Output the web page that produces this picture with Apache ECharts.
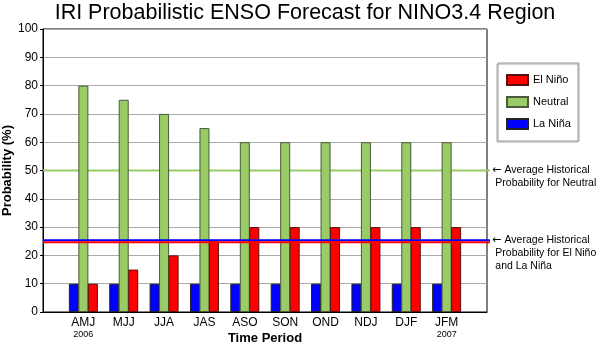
<!DOCTYPE html>
<html>
<head>
<meta charset="utf-8">
<script src="https://cdn.jsdelivr.net/npm/echarts@6/dist/echarts.min.js"></script>
<style>
  html, body { margin: 0; padding: 0; background: #fff; }
  #chart { width: 597px; height: 344px; }
</style>
</head>
<body>
<div id="chart"></div>
<script>
// Forecast periods (three-month seasons) and the year shown under the first/last one
const periods = ['AMJ', 'MJJ', 'JJA', 'JAS', 'ASO', 'SON', 'OND', 'NDJ', 'DJF', 'JFM'];
const periodYears = { 0: '2006', 9: '2007' };

// Probabilities (%) for each category
const elNino  = [10, 15, 20, 25, 30, 30, 30, 30, 30, 30];
const neutral = [80, 75, 70, 65, 60, 60, 60, 60, 60, 60];
const laNina  = [10, 10, 10, 10, 10, 10, 10, 10, 10, 10];

// Average historical (climatological) probabilities
const climNeutral = 50;
const climElNino = 25;
const climLaNina = 25;

const yTicks = [0, 10, 20, 30, 40, 50, 60, 70, 80, 90, 100];

const FONT = '"Liberation Sans", Arial, Helvetica, sans-serif';
const RED = '#ff0000', GREEN = '#99cc66', BLUE = '#0000ff';

const pairs = arr => arr.map((v, i) => [i, v]);

// Horizontal climatology line spanning the plot, with a small pixel shift
function refLine(color, pxShift) {
  return function (params, api) {
    const y = api.value(1);
    const a = api.coord([-1, y]);
    const b = api.coord([10, y]);
    return {
      type: 'line',
      shape: { x1: a[0], y1: a[1] + pxShift, x2: b[0] + 3, y2: b[1] + pxShift },
      style: { stroke: color, lineWidth: 2 }
    };
  };
}

const noteRich = {
  a: { fontFamily: '"DejaVu Sans", sans-serif', fontSize: 11, lineHeight: 13 },
  t: { fontFamily: FONT, fontSize: 10.5, lineHeight: 13 }
};

const chart = echarts.init(document.getElementById('chart'), null, { renderer: 'canvas' });

chart.setOption({
  animation: false,
  backgroundColor: '#fff',
  textStyle: { fontFamily: FONT, color: '#000' },
  title: {
    text: 'IRI Probabilistic ENSO Forecast for NINO3.4 Region',
    left: 300,
    top: -3,
    textAlign: 'center',
    textStyle: { fontFamily: FONT, fontSize: 21.5, fontWeight: 'normal', color: '#000' }
  },
  legend: {
    orient: 'vertical',
    left: 498,
    top: 63,
    padding: [11, 8, 11, 8],
    itemGap: 10,
    itemWidth: 21,
    itemHeight: 10,
    icon: 'rect',
    borderColor: '#999',
    borderWidth: 1,
    shadowColor: '#aaa',
    shadowBlur: 0,
    shadowOffsetX: -1,
    shadowOffsetY: 1,
    data: ['El Niño', 'Neutral', 'La Niña'],
    textStyle: { fontFamily: FONT, fontSize: 11, color: '#000' }
  },
  grid: {
    left: 43, right: 110, top: 29, bottom: 32,
    outerBoundsMode: 'none',
    containLabel: false,
    show: true, borderColor: '#000', borderWidth: 1, backgroundColor: 'transparent'
  },
  xAxis: {
    type: 'value',
    min: -1, max: 10, interval: 1,
    name: 'Time Period',
    nameLocation: 'middle',
    nameGap: 20,
    nameMoveOverlap: false,
    nameTextStyle: { fontFamily: FONT, fontSize: 13, fontWeight: 'bold', color: '#000' },
    axisLine: { show: true, onZero: false, lineStyle: { color: '#000', width: 1 } },
    axisTick: { show: false },
    splitLine: { show: false },
    axisLabel: {
      margin: 5,
      showMinLabel: false,
      showMaxLabel: false,
      formatter: function (v) {
        const name = periods[v];
        if (name === undefined) return '';
        return periodYears[v] ? '{c|' + name + '}\n{y|' + periodYears[v] + '}' : '{c|' + name + '}';
      },
      rich: {
        c: { fontFamily: FONT, fontSize: 12, lineHeight: 12, color: '#000' },
        y: { fontFamily: FONT, fontSize: 9, lineHeight: 11, color: '#000' }
      }
    }
  },
  yAxis: {
    type: 'value',
    min: yTicks[0], max: yTicks[yTicks.length - 1], interval: 10,
    name: 'Probability (%)',
    nameLocation: 'middle',
    nameRotate: 90,
    nameGap: 29,
    nameMoveOverlap: false,
    nameTextStyle: { fontFamily: FONT, fontSize: 13, fontWeight: 'bold', color: '#000' },
    axisLine: { show: true, onZero: false, lineStyle: { color: '#000', width: 1 } },
    axisTick: { show: true, length: 3, lineStyle: { color: '#000' } },
    splitLine: { show: true, lineStyle: { color: '#aaa', width: 1 } },
    axisLabel: { margin: 5, fontFamily: FONT, fontSize: 12, color: '#000' }
  },
  series: [
    {
      name: 'Neutral climatology',
      type: 'custom',
      coordinateSystem: 'cartesian2d',
      clip: false,
      z: 1,
      silent: true,
      encode: { x: 0, y: 1 },
      renderItem: refLine(GREEN, 0),
      data: [[-1, climNeutral]]
    },
    {
      name: 'La Niña',
      type: 'bar',
      z: 2,
      barWidth: 10,
      barGap: '-5%',
      itemStyle: { color: BLUE, borderColor: '#222', borderWidth: 1 },
      data: pairs(laNina)
    },
    {
      name: 'Neutral',
      type: 'bar',
      z: 2,
      barWidth: 10,
      barGap: '-5%',
      itemStyle: { color: GREEN, borderColor: '#4a5a3a', borderWidth: 1 },
      data: pairs(neutral)
    },
    {
      name: 'El Niño',
      type: 'bar',
      z: 2,
      barWidth: 10,
      barGap: '-5%',
      itemStyle: { color: RED, borderColor: '#5a1010', borderWidth: 1 },
      data: pairs(elNino)
    },
    {
      name: 'La Niña climatology',
      type: 'custom',
      coordinateSystem: 'cartesian2d',
      clip: false,
      z: 3,
      silent: true,
      encode: { x: 0, y: 1 },
      renderItem: refLine(BLUE, -1),
      data: [[-1, climLaNina]]
    },
    {
      name: 'El Niño climatology',
      type: 'custom',
      coordinateSystem: 'cartesian2d',
      clip: false,
      z: 3,
      silent: true,
      encode: { x: 0, y: 1 },
      renderItem: refLine(RED, 1),
      data: [[-1, climElNino]]
    }
  ],
  graphic: [
    {
      type: 'text', left: 492, top: 164,
      style: {
        text: '{a|←} {t|Average Historical}\n {t|Probability for Neutral}',
        rich: noteRich, fill: '#000'
      }
    },
    {
      type: 'text', left: 492, top: 234,
      style: {
        text: '{a|←} {t|Average Historical}\n {t|Probability for El Niño}\n {t|and La Niña}',
        rich: noteRich, fill: '#000'
      }
    }
  ]
});
</script>
</body>
</html>
